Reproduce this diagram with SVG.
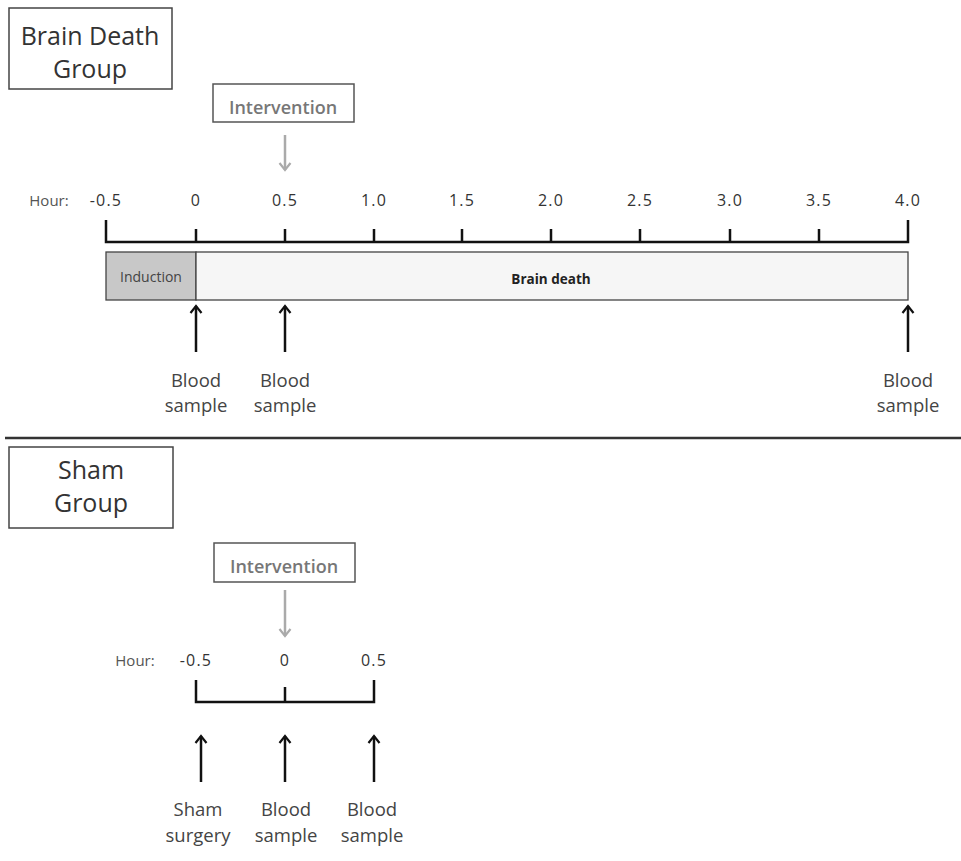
<svg xmlns="http://www.w3.org/2000/svg" width="961" height="861" viewBox="0 0 961 861">
<defs>
<style>
text{font-family:"Open Sans","Liberation Sans",sans-serif;fill:#333;}
.grp{font-size:25px;text-anchor:middle;}
.iv{font-size:18px;font-weight:600;fill:#777;text-anchor:middle;}
.hr{font-size:16px;text-anchor:middle;letter-spacing:1.2px;}
.hw{font-size:15px;text-anchor:middle;fill:#555;}
.lbl{font-size:18.5px;text-anchor:middle;fill:#444;}
.box{fill:#fff;stroke:#444;stroke-width:1.5;}
.ivbox{fill:#fff;stroke:#555;stroke-width:1.5;}
.axis{fill:none;stroke:#111;stroke-width:2.5;}
.blk{stroke:#111;stroke-width:2.5;fill:none;}
.gry{stroke:#aaa;stroke-width:2.5;fill:none;}
</style>
<marker id="ah" viewBox="0 0 14 14" refX="12" refY="7" markerWidth="14" markerHeight="14" markerUnits="userSpaceOnUse" orient="auto">
<path d="M5,1.5 L12,7 L5,12.5" fill="none" stroke="#111" stroke-width="2.2"/>
</marker>
<marker id="ahg" viewBox="0 0 14 14" refX="12" refY="7" markerWidth="14" markerHeight="14" markerUnits="userSpaceOnUse" orient="auto">
<path d="M5,1.5 L12,7 L5,12.5" fill="none" stroke="#aaa" stroke-width="2.2"/>
</marker>
</defs>
<rect width="961" height="861" fill="#fff"/>

<g id="bd-group">
<rect class="box" x="9" y="8" width="163" height="81"/>
<text class="grp" x="90" y="45">Brain Death</text>
<text class="grp" x="90" y="78">Group</text>
</g>

<g id="bd-intervention">
<rect class="ivbox" x="213" y="84" width="141" height="38"/>
<text class="iv" x="283" y="114">Intervention</text>
</g>

<g id="bd-axis">
<text class="hw" x="49" y="206">Hour:</text>
<text class="hr" x="106" y="206">-0.5</text>
<text class="hr" x="196" y="206">0</text>
<text class="hr" x="285" y="206">0.5</text>
<text class="hr" x="374" y="206">1.0</text>
<text class="hr" x="462" y="206">1.5</text>
<text class="hr" x="551" y="206">2.0</text>
<text class="hr" x="640" y="206">2.5</text>
<text class="hr" x="730" y="206">3.0</text>
<text class="hr" x="819" y="206">3.5</text>
<text class="hr" x="908" y="206">4.0</text>
<path class="axis" d="M106,220 V242 H908 V220 M196,229 V242 M285,229 V242 M374,229 V242 M462,229 V242 M551,229 V242 M640,229 V242 M730,229 V242 M819,229 V242"/>
</g>

<g id="bd-bar">
<rect x="106" y="252" width="90" height="48" fill="#c8c8c8" stroke="#444" stroke-width="1.3"/>
<rect x="196" y="252" width="712" height="48" fill="#f6f6f6" stroke="#444" stroke-width="1.3"/>
<text x="151" y="282" style="font-size:14px;text-anchor:middle;fill:#444">Induction</text>
<text x="551" y="284" style="font-size:13.5px;font-weight:bold;text-anchor:middle;fill:#222">Brain death</text>
</g>

<g id="bd-samples">
<text class="lbl" x="196" y="387">Blood</text>
<text class="lbl" x="196" y="412">sample</text>
<text class="lbl" x="285" y="387">Blood</text>
<text class="lbl" x="285" y="412">sample</text>
<text class="lbl" x="908" y="387">Blood</text>
<text class="lbl" x="908" y="412">sample</text>
</g>

<g id="separator">
<line x1="5" y1="438" x2="961" y2="438" stroke="#333" stroke-width="2.5"/>
</g>

<g id="sham-group">
<rect class="box" x="9" y="447" width="164" height="81"/>
<text class="grp" x="91" y="479">Sham</text>
<text class="grp" x="91" y="512">Group</text>
</g>

<g id="sham-intervention">
<rect class="ivbox" x="214" y="543" width="141" height="39"/>
<text class="iv" x="284" y="573">Intervention</text>
</g>

<g id="sham-axis">
<text class="hw" x="135" y="666">Hour:</text>
<text class="hr" x="196" y="666">-0.5</text>
<text class="hr" x="285" y="666">0</text>
<text class="hr" x="374" y="666">0.5</text>
<path class="axis" d="M196,680 V702 H374 V680 M285,687 V702"/>
</g>

<g id="sham-samples">
<text class="lbl" x="198" y="816">Sham</text>
<text class="lbl" x="198" y="842">surgery</text>
<text class="lbl" x="286" y="816">Blood</text>
<text class="lbl" x="286" y="842">sample</text>
<text class="lbl" x="372" y="816">Blood</text>
<text class="lbl" x="372" y="842">sample</text>
</g>

<g id="connectors">
<line class="gry" x1="285" y1="135" x2="285" y2="170" marker-end="url(#ahg)"/>
<line class="blk" x1="196" y1="352" x2="196" y2="306" marker-end="url(#ah)"/>
<line class="blk" x1="285" y1="352" x2="285" y2="306" marker-end="url(#ah)"/>
<line class="blk" x1="908" y1="352" x2="908" y2="306" marker-end="url(#ah)"/>
<line class="gry" x1="285" y1="590" x2="285" y2="636" marker-end="url(#ahg)"/>
<line class="blk" x1="201" y1="782" x2="201" y2="736" marker-end="url(#ah)"/>
<line class="blk" x1="285" y1="782" x2="285" y2="736" marker-end="url(#ah)"/>
<line class="blk" x1="374" y1="782" x2="374" y2="736" marker-end="url(#ah)"/>
</g>
</svg>
